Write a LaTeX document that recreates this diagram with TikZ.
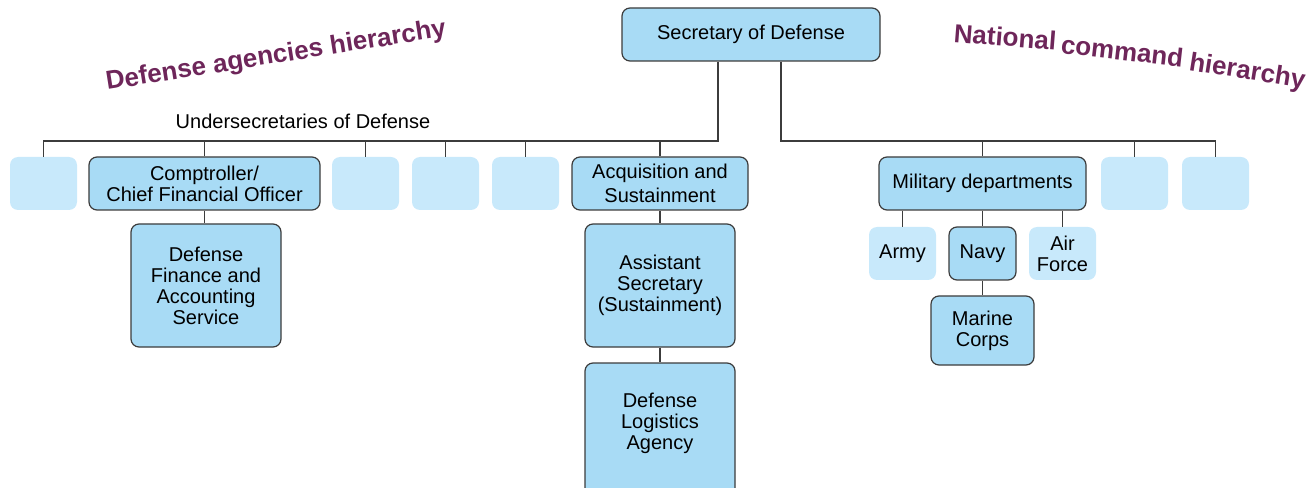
\documentclass[tikz,border=0pt]{standalone}
\usepackage{fontspec}
\setmainfont{Liberation Sans}
\definecolor{darkfill}{RGB}{168,219,245}
\definecolor{lightfill}{RGB}{200,233,251}
\definecolor{edgecol}{RGB}{60,60,60}
\definecolor{titlecol}{RGB}{110,38,90}
\newcommand\mybox[7]{%
  \pgfmathsetmacro\bcx{(#2+#4)/2}%
  \pgfmathsetmacro\bcy{(#3+#5)/2}%
  \pgfmathsetmacro\bww{(#4-#2)*0.75}%
  \pgfmathsetmacro\bhh{(#5-#3)*0.75}%
  \node[#6, minimum width=\bww pt, minimum height=\bhh pt] (#1) at (\bcx,\bcy) {#7};}
\tikzset{
  basebox/.style={rectangle, rounded corners=6pt, inner sep=0pt, align=center,
    font=\fontsize{15}{15.75}\selectfont, text=black},
  darkbox/.style={basebox, fill=darkfill, draw=edgecol, line width=0.9pt},
  lightbox/.style={basebox, fill=lightfill},
  conn/.style={draw=edgecol, line width=0.9pt},
  title/.style={font=\fontsize{19.5}{22}\selectfont\bfseries, text=titlecol, inner sep=0pt},
  plain/.style={font=\fontsize{15}{15.75}\selectfont, inner sep=0pt, align=center}
}
\begin{document}
\begin{tikzpicture}[x=0.75pt, y=-0.75pt]
\useasboundingbox (0,0) rectangle (1310,488);
% boxes
\mybox{sec}{622}{8}{880}{61}{darkbox}{Secretary of Defense}
\mybox{u1}{10}{157}{77}{210}{lightbox}{}
\mybox{comp}{89}{157}{320}{210}{darkbox}{Comptroller/\\Chief Financial Officer}
\mybox{u3}{332}{157}{399}{210}{lightbox}{}
\mybox{u4}{412}{157}{479}{210}{lightbox}{}
\mybox{u5}{492}{157}{559}{210}{lightbox}{}
\mybox{acq}{572}{157}{748}{210}{darkbox,font=\fontsize{15}{18}\selectfont}{Acquisition and\\Sustainment}
\mybox{dfas}{131}{224}{281}{347}{darkbox}{Defense\\Finance and\\Accounting\\Service}
\mybox{asst}{585}{224}{735}{347}{darkbox}{Assistant\\Secretary\\(Sustainment)}
\mybox{dla}{585}{363}{735}{500}{darkbox}{}
\node[plain] (dlatext) at (660,423) {Defense\\Logistics\\Agency};
\mybox{mil}{879}{157}{1086}{210}{darkbox}{Military departments}
\mybox{r2}{1101}{157}{1168}{210}{lightbox}{}
\mybox{r3}{1182}{157}{1249}{210}{lightbox}{}
\mybox{army}{869}{227}{936}{280}{lightbox}{Army}
\mybox{navy}{949}{227}{1016}{280}{darkbox}{Navy}
\mybox{af}{1029}{227}{1096}{280}{lightbox}{Air\\Force}
\mybox{mar}{931}{296}{1034}{365}{darkbox}{Marine\\Corps}
% labels
\node[plain] (under) at (303,121) {Undersecretaries of Defense};
\node[title, anchor=base west, rotate=9] (tleft) at (107,90) {Defense agencies hierarchy};
\node[title, anchor=base west, rotate=-4.5] (tr1) at (953,42) {National};
\node[title, anchor=base west, rotate=-6.5] (tr2) at (1060,53) {command};
\node[title, anchor=base west, rotate=-9] (tr3) at (1188,70) {hierarchy};
% buses
\coordinate (busLR) at (718,141);
\coordinate (busRL) at (781,141);
\draw[conn] (sec.south -| busLR) -- (busLR) -| (u1.north);
\foreach \n in {comp,u3,u4,u5,acq}{
  \draw[conn] (\n.north) -- (\n.north |- busLR);
}
\draw[conn] (sec.south -| busRL) -- (busRL) -| (r3.north);
\foreach \n in {mil,r2}{
  \draw[conn] (\n.north) -- (\n.north |- busRL);
}
\draw[conn] (comp.south) -- (comp.south |- dfas.north);
\draw[conn] (acq.south) -- (acq.south |- asst.north);
\draw[conn] (asst.south) -- (asst.south |- dla.north);
\draw[conn] (mil.south -| army.north) -- (army.north);
\draw[conn] (mil.south -| navy.north) -- (navy.north);
\draw[conn] (mil.south -| af.north) -- (af.north);
\draw[conn] (navy.south) -- (navy.south |- mar.north);
\end{tikzpicture}
\end{document}
